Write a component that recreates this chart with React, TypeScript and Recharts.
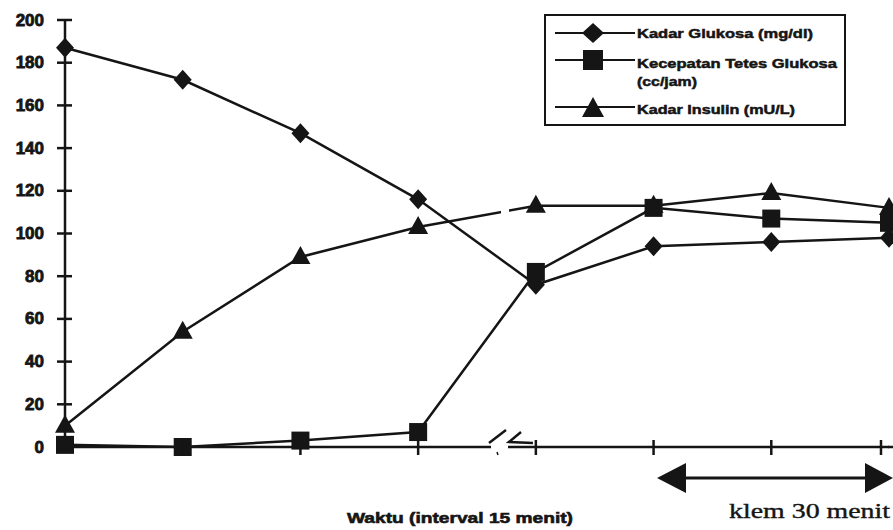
import { LineChart, Line, XAxis, YAxis } from 'recharts'

// waktu pengambilan sampel (menit)
const waktu = ['0', '15', '30', '45', '60', '75', '90', '105']
const kadarGlukosa = [187, 172, 147, 116, 76, 94, 96, 98]
const tetesGlukosa = [1, 0, 3, 7, 82, 112, 107, 105]
const kadarInsulin = [10, 54, 89, 103, 113, 113, 119, 112]
const yTicks = [0, 20, 40, 60, 80, 100, 120, 140, 160, 180, 200]

const data = waktu.map((t, i) => ({
  t,
  glukosa: kadarGlukosa[i],
  tetes: tetesGlukosa[i],
  insulin: kadarInsulin[i],
}))

const INK = '#151515'
const sans = '"Liberation Sans", Arial, sans-serif'

const diamondDot = (p: any) => (
  <path key={`dg-${p.index}`} d={`M${p.cx},${p.cy - 10}L${p.cx + 9},${p.cy}L${p.cx},${p.cy + 10}L${p.cx - 9},${p.cy}Z`} fill={INK} />
)
const squareDot = (p: any) => (
  <rect key={`sq-${p.index}`} x={p.cx - 9} y={p.cy - 9} width={18} height={18} fill={INK} />
)
const triangleDot = (p: any) => (
  <path key={`tr-${p.index}`} d={`M${p.cx},${p.cy - 11}L${p.cx + 10},${p.cy + 7}L${p.cx - 10},${p.cy + 7}Z`} fill={INK} />
)

const YTick = ({ x, y, payload }: any) => (
  <g>
    <line x1={x - 8} x2={x + 7} y1={y} y2={y} stroke={INK} strokeWidth={2.5} />
    <text
      x={x - 21}
      y={y}
      textAnchor="end"
      dominantBaseline="central"
      fontFamily={sans}
      fontWeight="bold"
      fontSize={17}
      fill={INK}
      stroke={INK}
      strokeWidth={0.8}
    >
      {payload.value}
    </text>
  </g>
)

const XTick = ({ x, y, index }: any) =>
  index === 0 ? <g /> : <line x1={x} x2={x} y1={y - 7} y2={y + 8} stroke={INK} strokeWidth={2.5} />

function Legenda() {
  const cx = 593
  const txt = { fontFamily: sans, fontWeight: 'bold' as const, fontSize: 13, fill: INK, stroke: INK, strokeWidth: 0.5, lengthAdjust: 'spacingAndGlyphs' }
  return (
    <g>
      <rect x={545} y={15} width={300} height={110} fill="#fff" stroke={INK} strokeWidth={2} />
      {[33, 60, 107].map((y) => (
        <line key={y} x1={555} x2={635} y1={y} y2={y} stroke={INK} strokeWidth={2} />
      ))}
      <path d={`M${cx},23L${cx + 11},33L${cx},43L${cx - 11},33Z`} fill={INK} />
      <rect x={cx - 10} y={50} width={20} height={20} fill={INK} />
      <path d={`M${cx},97L${cx + 11},117L${cx - 11},117Z`} fill={INK} />
      <text x={637} y={38} {...txt} textLength={176}>Kadar Glukosa  (mg/dl)</text>
      <text x={637} y={68} {...txt} textLength={200}>Kecepatan Tetes Glukosa</text>
      <text x={637} y={86} {...txt} textLength={60}>(cc/jam)</text>
      <text x={637} y={114} {...txt} textLength={158}>Kadar Insulin (mU/L)</text>
    </g>
  )
}

export default function App() {
  return (
    <div style={{ position: 'absolute', left: 0, top: 0, width: 893, height: 530, background: '#fff' }}>
      <LineChart width={893} height={530} data={data} margin={{ top: 20, right: 4, bottom: 63, left: 0 }}>
        <XAxis dataKey="t" height={20} tickSize={0} tickMargin={0} tick={<XTick />} axisLine={{ stroke: INK, strokeWidth: 2.5 }} tickLine={false} />
        <YAxis
          domain={[0, 200]}
          ticks={yTicks}
          width={65}
          tickSize={0}
          tickMargin={0}
          tick={<YTick />}
          axisLine={{ stroke: INK, strokeWidth: 2.5 }}
          tickLine={false}
        />
        <Line dataKey="tetes" stroke={INK} strokeWidth={2.5} dot={squareDot} isAnimationActive={false} />
        <Line dataKey="insulin" stroke={INK} strokeWidth={2.5} dot={triangleDot} isAnimationActive={false} />
        <Line dataKey="glukosa" stroke={INK} strokeWidth={2.5} dot={diamondDot} isAnimationActive={false} />
      </LineChart>
      <svg width={893} height={530} style={{ position: 'absolute', left: 0, top: 0, pointerEvents: 'none' }}>
        {/* sambungan sumbu x sampai tepi kanan */}
        <line x1={888} x2={893} y1={447} y2={447} stroke={INK} strokeWidth={2.5} />
        {/* tanda patahan sumbu waktu */}
        <rect x={491} y={443} width={17} height={8} fill="#fff" />
        <rect x={501} y={205} width={8} height={10} fill="#fff" />
        <line x1={489} y1={443} x2={506} y2={430} stroke={INK} strokeWidth={2.5} />
        <line x1={497} y1={452} x2={498} y2={455} stroke={INK} strokeWidth={1.5} />
        <polyline points="521,432 509,442 533,443" fill="none" stroke={INK} strokeWidth={2.5} />
        {/* periode klem */}
        <line x1={680} x2={870} y1={478} y2={478} stroke={INK} strokeWidth={3} />
        <path d="M657,478L686,463L686,493Z" fill={INK} />
        <path d="M893,478L865,463L865,493Z" fill={INK} />
        <text
          x={729}
          y={518}
          fontFamily='"Liberation Serif", "Times New Roman", serif'
          fontSize={22}
          fill={INK}
          stroke={INK}
          strokeWidth={0.4}
          textLength={161}
          lengthAdjust="spacingAndGlyphs"
        >
          klem 30 menit
        </text>
        <text
          x={347}
          y={523}
          fontFamily={sans}
          fontWeight="bold"
          fontSize={15}
          fill={INK}
          stroke={INK}
          strokeWidth={0.6}
          textLength={226}
          lengthAdjust="spacingAndGlyphs"
        >
          Waktu (interval 15 menit)
        </text>
        <Legenda />
      </svg>
    </div>
  )
}
